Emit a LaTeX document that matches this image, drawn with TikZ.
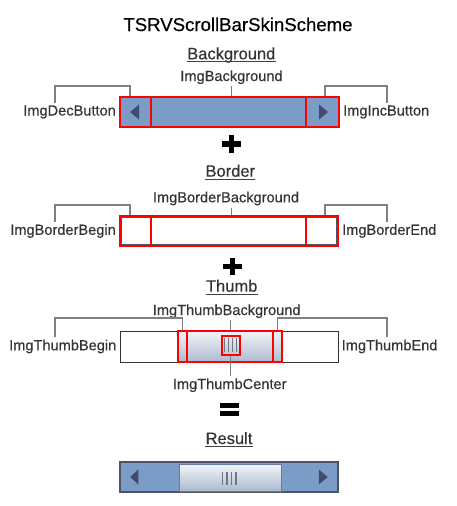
\documentclass[tikz,border=0pt]{standalone}
\usepackage{fontspec}
\setmainfont{Liberation Sans}
\newfontfamily\heavyfont[FakeBold=0.35]{Liberation Sans}
\usetikzlibrary{shapes,arrows,positioning}
\definecolor{sbblue}{RGB}{122,156,198}
\definecolor{sbarrow}{RGB}{62,76,110}
\definecolor{sbframe}{RGB}{78,84,100}
\definecolor{linkgray}{RGB}{128,128,128}
\definecolor{labelgray}{RGB}{52,52,52}
\definecolor{thumbtop}{RGB}{242,245,249}
\definecolor{thumbbot}{RGB}{172,186,206}
\definecolor{thumbedge}{RGB}{100,122,160}
\definecolor{gripgray}{RGB}{112,118,130}
\tikzstyle{maintitle} = [font=\heavyfont\fontsize{18.6}{22}\selectfont, text=black, inner sep=0pt, anchor=base]
\tikzstyle{parthead} = [font=\heavyfont\fontsize{16.5}{20}\selectfont, text=black!80, inner sep=0pt, anchor=base]
\tikzstyle{partlabel} = [font=\heavyfont\fontsize{14.6}{17}\selectfont, text=labelgray, inner sep=2pt]
\tikzstyle{segbox} = [rectangle, draw=red, line width=2pt, inner sep=0pt, minimum height=30pt]
\tikzstyle{trackbox} = [rectangle, draw=sbframe, line width=1.5pt, fill=white, inner sep=0pt]
\tikzstyle{thumbbox} = [rectangle, draw=thumbedge, line width=1pt, top color=thumbtop, bottom color=thumbbot, inner sep=0pt]
\tikzstyle{partlink} = [draw=linkgray, line width=1.3pt]
\tikzstyle{headrule} = [draw=black!75, line width=1.3pt]
\tikzstyle{opsign} = [line width=5.5pt, black]
\tikzstyle{gripline} = [draw=gripgray, line width=1.6pt]
\tikzstyle{btnarrow} = [fill=sbarrow]

\begin{document}
\begin{tikzpicture}[x=1pt,y=-1pt]

\path [use as bounding box, fill=white] (0,0) rectangle (456,506);
\coordinate (lcol) at (55,0);
\coordinate (rcol) at (387,0);

\node (title) [maintitle] at (238,31) {TSRVScrollBarSkinScheme};

% background
\node (bghead) [parthead] at (231.3,59.3) {Background};
\draw [headrule] ([yshift=-2.5pt]bghead.base west) -- ([yshift=-2.5pt]bghead.base east);
\node (dec) [segbox, fill=sbblue, minimum width=31pt] at (135.5,112) {};
\node (bgr) [segbox, fill=sbblue, minimum width=155pt] at (228.5,112) {};
\node (inc) [segbox, fill=sbblue, minimum width=33pt] at (322.5,112) {};
\fill [btnarrow] ([xshift=-5.5pt]dec.center) -- ([xshift=3.5pt,yshift=7.5pt]dec.center) -- ([xshift=3.5pt,yshift=-7.5pt]dec.center) -- cycle;
\fill [btnarrow] ([xshift=5.5pt]inc.center) -- ([xshift=-3.5pt,yshift=7.5pt]inc.center) -- ([xshift=-3.5pt,yshift=-7.5pt]inc.center) -- cycle;
\node (bglabel) [partlabel, anchor=base] at (231.5,81) {ImgBackground};
\node (decbtn) [partlabel, left=1pt of dec] {ImgDecButton};
\node (incbtn) [partlabel, right=1pt of inc] {ImgIncButton};
\draw [partlink] (bglabel.south) -- (bglabel.south |- bgr.north);
\draw [partlink] (decbtn.north -| lcol) |- ([xshift=-5.5pt,yshift=10pt]dec.north) -- ([xshift=-5.5pt]dec.north);
\draw [partlink] (incbtn.north -| rcol) |- ([xshift=2.5pt,yshift=10pt]inc.north) -- ([xshift=2.5pt]inc.north);

\draw [opsign] (222,144) -- (241,144);
\draw [opsign] (231.5,135) -- (231.5,153);

% border
\node (brdhead) [parthead] at (230.3,176.7) {Border};
\draw [headrule] ([yshift=-2.5pt]brdhead.base west) -- ([yshift=-2.5pt]brdhead.base east);
\node (brd) [trackbox, minimum width=215pt, minimum height=27pt] at (229,231) {};
\node (bbegin) [segbox, minimum width=31pt] at (135.5,231) {};
\node (bbg) [segbox, minimum width=155pt] at (228.5,231) {};
\node (bend) [segbox, minimum width=32pt] at (322,231) {};
\node (bbglabel) [partlabel, anchor=base] at (226,202.3) {ImgBorderBackground};
\node (bbeginlabel) [partlabel, left=1pt of bbegin] {ImgBorderBegin};
\node (bendlabel) [partlabel, right=1pt of bend] {ImgBorderEnd};
\draw [partlink] (bbglabel.south -| bglabel.south) -- (bbg.north -| bglabel.south);
\draw [partlink] (bbeginlabel.north -| lcol) |- ([xshift=-5.5pt,yshift=10pt]bbegin.north) -- ([xshift=-5.5pt]bbegin.north);
\draw [partlink] (bendlabel.north -| rcol) |- ([xshift=3pt,yshift=10pt]bend.north) -- ([xshift=3pt]bend.north);

\draw [opsign] (223,266.5) -- (242,266.5);
\draw [opsign] (232.5,258) -- (232.5,275);

% thumb
\node (thmhead) [parthead] at (231.7,291.7) {Thumb};
\draw [headrule] ([yshift=-2.5pt]thmhead.base west) -- ([yshift=-2.5pt]thmhead.base east);
\node (trk) [trackbox, draw=black!80, line width=1pt, minimum width=218pt, minimum height=31pt] at (229,346.5) {};
\node (thm) [thumbbox, minimum width=104pt, minimum height=31pt] at (230,346.5) {};
\node (tbegin) [segbox, minimum width=9pt, minimum height=31pt] at (182.5,346.5) {};
\node (tbg) [segbox, minimum width=86pt, minimum height=31pt] at (230,346.5) {};
\node (tend) [segbox, minimum width=9pt, minimum height=31pt] at (277.5,346.5) {};
\foreach \gx in {-6,-2,2,6}
  \draw [gripline] ([xshift=\gx pt]230.5,338) -- ([xshift=\gx pt]230.5,352);
\node (tcenter) [segbox, minimum width=18pt, minimum height=19pt] at (230.5,345) {};
\node (tbglabel) [partlabel, anchor=base] at (226.7,315) {ImgThumbBackground};
\node (tclabel) [partlabel, anchor=base] at (229.7,389) {ImgThumbCenter};
\node (tbeginlabel) [partlabel, left=1pt of trk] {ImgThumbBegin};
\node (tendlabel) [partlabel, right=1pt of trk] {ImgThumbEnd};
\draw [partlink] (tcenter.north |- tbglabel.south) -- (tcenter.north |- tbg.north);
\draw [partlink] (tcenter.south) -- (tcenter.south |- tclabel.north);
\draw [partlink] (tbeginlabel.north -| lcol) |- ([yshift=12pt]tbegin.north) -- (tbegin.north);
\draw [partlink] (tendlabel.north -| rcol) |- ([yshift=12pt]tend.north) -- (tend.north);

\draw [opsign, line width=5pt] (220,405.8) -- (239,405.8);
\draw [opsign, line width=5pt] (220,413.7) -- (239,413.7);

% result
\node (reshead) [parthead] at (229,444) {Result};
\draw [headrule] ([yshift=-2.5pt]reshead.base west) -- ([yshift=-2.5pt]reshead.base east);
\node (res) [trackbox, fill=sbblue, minimum width=218pt, minimum height=30pt] at (229,477) {};
\node (rthumb) [thumbbox, minimum width=102pt, minimum height=27pt] at (230,477.5) {};
\foreach \gx in {-7,-2.5,2,6.5}
  \draw [gripline] ([xshift=\gx pt]229.5,472) -- ([xshift=\gx pt]229.5,485);
\fill [btnarrow] ([xshift=11pt]res.west) -- ([xshift=19pt,yshift=7.5pt]res.west) -- ([xshift=19pt,yshift=-7.5pt]res.west) -- cycle;
\fill [btnarrow] ([xshift=-11pt]res.east) -- ([xshift=-20pt,yshift=7.5pt]res.east) -- ([xshift=-20pt,yshift=-7.5pt]res.east) -- cycle;

\end{tikzpicture}
\end{document}
